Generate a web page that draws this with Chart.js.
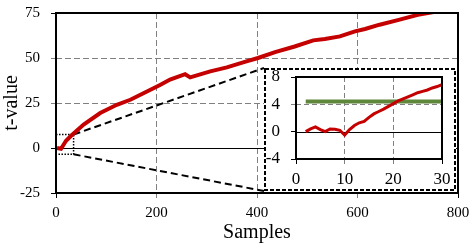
<!DOCTYPE html>
<html>
<head>
<meta charset="utf-8">
<script src="https://cdn.jsdelivr.net/npm/chart.js@4"></script>
<style>
  html, body { margin: 0; padding: 0; background: #fff; }
  #wrap { position: relative; width: 473px; height: 247px; }
  #main { position: absolute; left: 0; top: 0; }
  #insetBox { position: absolute; left: 264px; top: 68px; width: 192px; height: 123px; background: #fff; }
  #inset { display: block; }
</style>
</head>
<body>
<div id="wrap">
  <canvas id="main" width="473" height="247"></canvas>
  <div id="insetBox"><canvas id="inset" width="192" height="123"></canvas></div>
</div>
<script>
// t-value against number of samples (main plot)
const sampleX = [2, 10, 20, 30, 55, 88, 121, 148, 181, 207, 227, 257, 267, 307, 340, 379, 402, 436, 475, 512, 535, 565, 595, 615, 644, 684, 720, 760];
const tValue = [0, -0.4, 4.0, 6.8, 13, 19.4, 24, 26.8, 31.4, 35, 38, 41, 39.2, 42.6, 44.8, 48.1, 50, 53.3, 56.4, 59.8, 60.6, 62, 64.8, 66.1, 68.5, 71.3, 74, 76];

// first 30 samples (inset)
const insetX = [2, 3, 4, 5, 6, 7, 8, 9, 10, 11, 12, 13, 14, 15, 16, 17, 18, 19, 20, 21, 22, 23, 24, 25, 26, 27, 28, 29, 30];
const insetT = [0, 0.4, 0.7, 0.3, 0.0, 0.4, 0.35, 0.2, -0.5, 0.3, 0.9, 1.3, 1.5, 2.1, 2.6, 2.95, 3.3, 3.7, 4.1, 4.5, 4.8, 5.1, 5.4, 5.7, 5.9, 6.1, 6.4, 6.6, 6.9];

// threshold line in the inset
const thresholdX = [2, 30];
const thresholdT = [4.4, 4.4];

// tick labels
const mainXTicks = [0, 200, 400, 600, 800];
const mainYTicks = [-25, 0, 25, 50, 75];
const insetXTicks = [0, 10, 20, 30];
const insetYTicks = [-4, 0, 4, 8];

// part of the main plot that the inset enlarges
const zoomX = [0, 35];
const zoomY = [-3.5, 7.5];

const serif = "'Liberation Serif', 'Times New Roman', serif";
const red = '#c40000';
const green = '#5f873c';

function toPoints(xs, ys) {
    return xs.map((x, i) => ({ x: x, y: ys[i] }));
}

// gray dashed grid, the zero line is drawn separately
function gridColor(ctx) {
    return ctx.tick && ctx.tick.value === 0 ? 'rgba(0,0,0,0)' : '#808080';
}

function makeTickColor(ticks) {
    return ctx => {
        const v = ctx.tick ? ctx.tick.value : null;
        if (v === 0 || v === ticks[0] || v === ticks[ticks.length - 1]) return '#000';
        return '#808080';
    };
}

// fixed axis size, no extra label padding (layout padding handles it)
function fixSize(prop, size) {
    return s => {
        s[prop] = size;
        s.paddingTop = 0;
        s.paddingBottom = 0;
        s.paddingLeft = 0;
        s.paddingRight = 0;
    };
}

function drawFrame(chart) {
    const { ctx, chartArea: a } = chart;
    ctx.save();
    ctx.strokeStyle = '#000';
    ctx.lineWidth = 2;
    ctx.strokeRect(a.left, a.top, a.right - a.left, a.bottom - a.top);
    ctx.restore();
}

function drawZeroLine(chart) {
    const { ctx, chartArea: a, scales } = chart;
    const y0 = Math.round(scales.y.getPixelForValue(0)) + 0.5;
    ctx.save();
    ctx.strokeStyle = '#000';
    ctx.lineWidth = 1;
    ctx.beginPath();
    ctx.moveTo(a.left, y0);
    ctx.lineTo(a.right, y0);
    ctx.stroke();
    ctx.restore();
}

const mainDecor = {
    id: 'mainDecor',
    beforeDatasetsDraw(chart) {
        const { ctx, scales: { x, y } } = chart;
        drawZeroLine(chart);

        const bx0 = x.getPixelForValue(zoomX[0]);
        const bx1 = x.getPixelForValue(zoomX[1]);
        const byTop = y.getPixelForValue(zoomY[1]);
        const byBot = y.getPixelForValue(zoomY[0]);

        ctx.save();
        ctx.strokeStyle = '#000';
        // dotted zoom window
        ctx.setLineDash([1.5, 1.5]);
        ctx.lineWidth = 1.5;
        ctx.strokeRect(bx0, byTop, bx1 - bx0, byBot - byTop);

        // dashed connectors to the inset box
        const box = document.getElementById('insetBox');
        const ix = box.offsetLeft;
        const iy = box.offsetTop;
        const ih = box.offsetHeight;
        ctx.setLineDash([7, 4]);
        ctx.lineWidth = 2;
        ctx.beginPath();
        ctx.moveTo(bx1, byTop);
        ctx.lineTo(ix, iy);
        ctx.moveTo(bx1, byBot);
        ctx.lineTo(ix, iy + ih);
        ctx.stroke();
        ctx.restore();
    },
    afterDraw: drawFrame
};

const insetDecor = {
    id: 'insetDecor',
    beforeDatasetsDraw: drawZeroLine,
    afterDraw(chart) {
        drawFrame(chart);
        const ctx = chart.ctx;
        ctx.save();
        ctx.strokeStyle = '#000';
        ctx.lineWidth = 2;
        ctx.setLineDash([4, 2]);
        ctx.strokeRect(1, 1, chart.width - 2, chart.height - 2);
        ctx.restore();
    }
};

// Main chart
new Chart(document.getElementById('main'), {
    type: 'line',
    data: {
        datasets: [{
            data: toPoints(sampleX, tValue),
            borderColor: red,
            borderWidth: 4,
            pointRadius: 0,
            tension: 0
        }]
    },
    options: {
        responsive: false,
        animation: false,
        layout: { autoPadding: false, padding: { top: 13, right: 15, left: 0, bottom: 0 } },
        plugins: { legend: { display: false }, tooltip: { enabled: false } },
        scales: {
            x: {
                type: 'linear',
                min: 0,
                max: 800,
                afterBuildTicks: s => { s.ticks = mainXTicks.map(v => ({ value: v })); },
                afterFit: fixSize('height', 54),
                grid: { color: gridColor, tickLength: 5, tickColor: makeTickColor(mainXTicks) },
                border: { display: false, dash: [6, 3] },
                ticks: { font: { family: serif, size: 15 }, color: '#000', padding: 6, maxRotation: 0 },
                title: { display: true, text: 'Samples', color: '#000', font: { family: serif, size: 20 }, padding: { top: 0, bottom: 2 } }
            },
            y: {
                type: 'linear',
                min: -25,
                max: 75,
                afterBuildTicks: s => { s.ticks = mainYTicks.map(v => ({ value: v })); },
                afterFit: fixSize('width', 56),
                grid: { color: gridColor, tickLength: 5, tickColor: makeTickColor(mainYTicks) },
                border: { display: false, dash: [6, 3] },
                ticks: { font: { family: serif, size: 15 }, color: '#000', padding: 11 },
                title: { display: true, text: 't-value', color: '#000', font: { family: serif, size: 20 }, padding: { top: 0, bottom: 0 } }
            }
        }
    },
    plugins: [mainDecor]
});

// Inset chart
new Chart(document.getElementById('inset'), {
    type: 'line',
    data: {
        datasets: [{
            data: toPoints(insetX, insetT),
            borderColor: red,
            borderWidth: 3,
            pointRadius: 0,
            tension: 0,
            order: 0
        }, {
            data: toPoints(thresholdX, thresholdT),
            borderColor: green,
            borderWidth: 4,
            pointRadius: 0,
            order: 1
        }]
    },
    options: {
        responsive: false,
        animation: false,
        layout: { autoPadding: false, padding: { top: 9, right: 14, left: 0, bottom: 0 } },
        plugins: { legend: { display: false }, tooltip: { enabled: false } },
        scales: {
            x: {
                type: 'linear',
                min: 0,
                max: 30,
                afterBuildTicks: s => { s.ticks = insetXTicks.map(v => ({ value: v })); },
                afterFit: fixSize('height', 32),
                grid: { color: gridColor, tickLength: 5, tickColor: makeTickColor(insetXTicks) },
                border: { display: false, dash: [5, 3] },
                ticks: { font: { family: serif, size: 17 }, color: '#000', padding: 5, maxRotation: 0 }
            },
            y: {
                type: 'linear',
                min: -4,
                max: 8,
                afterBuildTicks: s => { s.ticks = insetYTicks.map(v => ({ value: v })); },
                afterFit: fixSize('width', 32),
                grid: { color: gridColor, tickLength: 5, tickColor: makeTickColor(insetYTicks) },
                border: { display: false, dash: [5, 3] },
                ticks: { font: { family: serif, size: 17 }, color: '#000', padding: 11 }
            }
        }
    },
    plugins: [insetDecor]
});
</script>
</body>
</html>
